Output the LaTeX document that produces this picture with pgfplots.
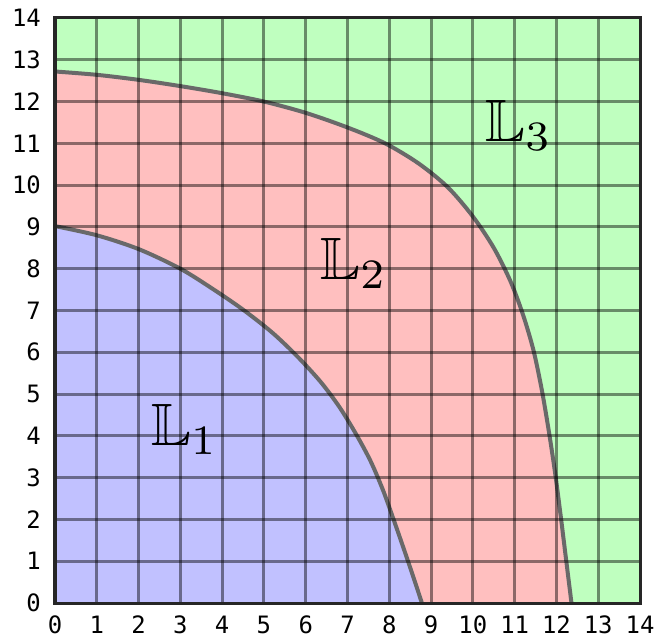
\documentclass[border=0pt]{standalone}
\usepackage{fontspec}
\setmonofont{DejaVu Sans Mono}
\usepackage{amssymb}
\usepackage{pgfplots}
\pgfplotsset{compat=1.18}

\definecolor{regionA}{RGB}{193,193,255}
\definecolor{regionB}{RGB}{255,191,191}
\definecolor{regionC}{RGB}{191,255,191}
\definecolor{border}{RGB}{105,105,105}

\newcommand\lab[1]{\scalebox{6.0}{$\mathbb{L}_{#1}$}}

% level-set boundaries
\pgfplotstableread{
x y
0 12.72
1 12.64
2 12.52
3 12.37
4 12.2
5 12.0
6 11.73
7 11.38
7.9 11.0
8.7 10.52
9.4 9.95
10 9.25
10.5 8.5
10.9 7.7
11.2 6.9
11.45 6.05
11.65 5.1
11.82 4.1
11.97 3.1
12.1 2.1
12.23 1.05
12.36 0
}\outer
\pgfplotstableread{
x y
0 9.02
1 8.8
2 8.47
3 8.0
3.8 7.5
4.5 7.02
5.2 6.47
5.8 5.9
6.35 5.3
6.8 4.7
7.2 4.05
7.55 3.4
7.85 2.7
8.12 1.95
8.38 1.2
8.6 0.55
8.78 0
}\inner

\begin{document}
\begin{tikzpicture}
\begin{axis}[
  width=585bp, height=585bp, scale only axis,
  xmin=0, xmax=14, ymin=0, ymax=14,
  xtick={0,...,14}, ytick={0,...,14},
  major tick length=0pt,
  grid=major,
  grid style={black, opacity=0.45, line width=3bp},
  axis line style={line width=3bp, black!85},
  axis on top,
  axis background/.style={fill=regionC},
  ticklabel style={font=\fontsize{24}{26}\selectfont\ttfamily, inner sep=0pt},
  /pgf/number format/assume math mode=true,
  xticklabel shift=13bp, yticklabel shift=14bp,
]
\addplot[fill=regionB, draw=none, smooth] table {\outer} \closedcycle;
\addplot[fill=regionA, draw=none, smooth] table {\inner} \closedcycle;
\addplot[border, line width=4bp, smooth] table {\outer};
\addplot[border, line width=4bp, smooth] table {\inner};
\node at (axis cs:3.1,4.15) {\lab{1}};
\node at (axis cs:7.15,8.13) {\lab{2}};
\node at (axis cs:11.1,11.44) {\lab{3}};
\end{axis}
\path (current axis.south west) ++(-55bp,-36bp);
\path (current axis.north east) ++(17bp,18bp);
\end{tikzpicture}
\end{document}
